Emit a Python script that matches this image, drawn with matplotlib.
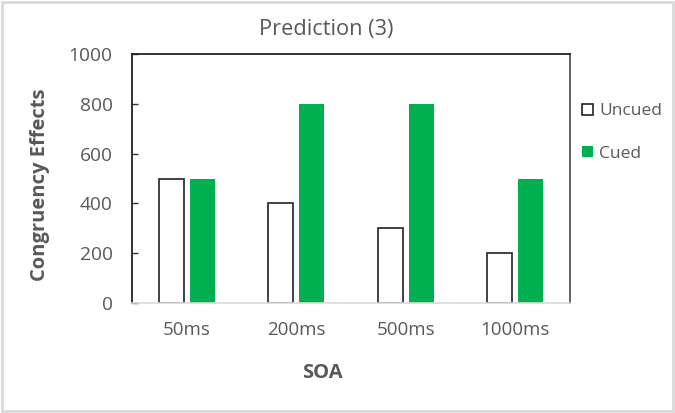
import numpy as np
import matplotlib
matplotlib.use('Agg')
import matplotlib.pyplot as plt
from matplotlib.patches import Patch, Rectangle

plt.rcParams['font.family'] = ['Open Sans', 'DejaVu Sans']

soa = ['50ms', '200ms', '500ms', '1000ms']
uncued = [500, 400, 300, 200]
cued = [500, 800, 800, 500]
yticks = [0, 200, 400, 600, 800, 1000]

TXT = '#595959'
GREEN = '#00B050'

fig = plt.figure(figsize=(6.75, 4.13), dpi=100)
ax = fig.add_axes([132 / 675, 1 - 303 / 413, 438 / 675, 249 / 413])

x = np.arange(len(soa))
w = 0.228
off = 0.1416
ax.bar(x - off, uncued, w, color='white', edgecolor='#333333', linewidth=1.3)
ax.bar(x + off, cued, w, color=GREEN, edgecolor='none')

ax.set_xlim(-0.5, len(soa) - 0.5)
ax.set_ylim(0, 1000)
ax.set_yticks(yticks)
ax.set_xticks(x)
ax.set_xticklabels(soa)
ax.tick_params(axis='y', direction='in', length=4, width=1, color='#333333',
               labelsize=13.8, labelcolor=TXT, pad=14)
ax.tick_params(axis='x', length=0, labelsize=13.5, labelcolor=TXT, pad=13)

for s in ['left', 'top']:
    ax.spines[s].set_color('#222222')
    ax.spines[s].set_linewidth(1.3)
ax.spines['right'].set_color('#555555')
ax.spines['right'].set_linewidth(1.3)
ax.spines['bottom'].set_color('#D9D9D9')
ax.spines['bottom'].set_linewidth(1.2)

ax.set_ylabel('Congruency Effects', fontsize=14.5, fontweight='bold', color=TXT, va='center')
ax.yaxis.set_label_coords((40 - 132) / 438, (303 - 184.5) / 249)
ax.set_xlabel('SOA', fontsize=14.5, fontweight='bold', color=TXT, va='center')
ax.xaxis.set_label_coords((322 - 132) / 438, (303 - 373) / 249)

fig.text(326 / 675, 1 - 30 / 413, 'Prediction (3)', ha='center', va='center',
         fontsize=15.7, color=TXT)

handles = [Patch(facecolor='white', edgecolor='#222222', linewidth=1.2),
           Patch(facecolor=GREEN, edgecolor='none')]
fig.legend(handles, ['Uncued', 'Cued'], loc='center left',
           bbox_to_anchor=(582 / 675, 1 - 132.5 / 413), frameon=False,
           fontsize=12.5, labelcolor=TXT, borderpad=0, borderaxespad=0,
           handlelength=0.65, handleheight=0.65, handletextpad=0.35,
           labelspacing=1.5)

fig.patches.append(Rectangle((0.003, 0.004), 0.994, 0.992, transform=fig.transFigure,
                             fill=False, edgecolor='#D9D9D9', linewidth=2))

fig.savefig('out.png', dpi=100)
